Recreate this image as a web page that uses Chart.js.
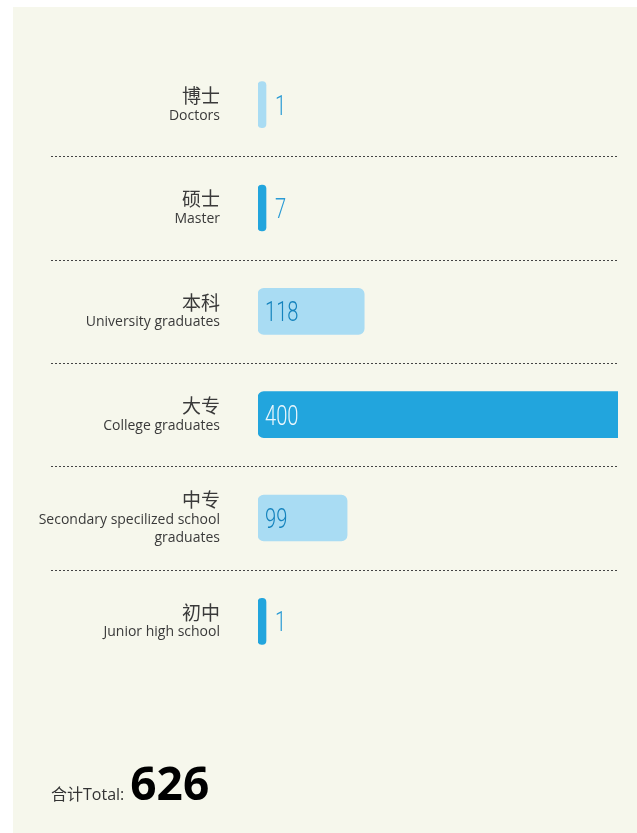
<!DOCTYPE html>
<html>
<head>
<meta charset="utf-8">
<script src="https://cdn.jsdelivr.net/npm/chart.js@4.4.1/dist/chart.umd.min.js"></script>
<style>
  html, body { margin: 0; padding: 0; background: #fff; }
  #panel { position: absolute; left: 13px; top: 7px; width: 624px; height: 826px; background: #f6f7ec; }
  #chart { position: absolute; left: 0; top: 0; }
  #total { position: absolute; left: 38px; top: 744px; line-height: 46px; white-space: nowrap; color: #333; }
  #total .lbl { font: 16px "Open Sans", "Noto Sans CJK SC", sans-serif; }
  #total .num { font: 700 46px "Open Sans", sans-serif; color: #000; margin-left: 6px; }
</style>
</head>
<body>
<div id="panel">
  <canvas id="chart" width="624" height="826"></canvas>
  <div id="total"><span class="lbl">合计Total:</span><span class="num">626</span></div>
</div>
<script>
const categoriesZh = ["博士", "硕士", "本科", "大专", "中专", "初中"]
const categoriesEn = [
  ["Doctors"],
  ["Master"],
  ["University graduates"],
  ["College graduates"],
  ["Secondary specilized school", "graduates"],
  ["Junior high school"]
]
const counts = [1, 7, 118, 400, 99, 1]

const lightBlue = "#a9dcf3"
const darkBlue = "#22a5dd"

const decor = {
  id: "decor",
  beforeDatasetsDraw(chart) {
    const ctx = chart.ctx
    const y = chart.scales.y
    ctx.save()
    ctx.setLineDash([2, 2])
    ctx.strokeStyle = "#444"
    ctx.lineWidth = 1
    for (let i = 1; i < categoriesZh.length; i++) {
      const py = Math.round((y.getPixelForTick(i - 1) + y.getPixelForTick(i)) / 2) + 0.5
      ctx.beginPath()
      ctx.moveTo(38, py)
      ctx.lineTo(chart.chartArea.right, py)
      ctx.stroke()
    }
    ctx.restore()
  },
  afterDatasetsDraw(chart) {
    const ctx = chart.ctx
    const y = chart.scales.y
    const meta = chart.getDatasetMeta(0)
    const right = chart.chartArea.left - 38

    ctx.save()
    ctx.textAlign = "right"
    ctx.textBaseline = "middle"
    categoriesZh.forEach((zh, i) => {
      const c = y.getPixelForTick(i)
      const en = categoriesEn[i]
      const top = c - (22 + en.length * 18) / 2
      ctx.fillStyle = "#3a3a3a"
      ctx.font = "19px 'Noto Sans CJK SC'"
      ctx.fillText(zh, right, top + 11)
      ctx.font = "14px 'Open Sans'"
      en.forEach((line, j) => ctx.fillText(line, right, top + 31 + j * 18))
    })
    ctx.restore()

    // value labels, drawn narrow like a condensed face
    meta.data.forEach((bar, i) => {
      const w = bar.x - bar.base
      const inside = w > 40
      const tx = inside ? bar.base + 7 : bar.x + 9
      ctx.save()
      ctx.translate(tx, bar.y + 10)
      ctx.scale(0.72, 1)
      ctx.font = "300 28px Roboto"
      ctx.textAlign = "left"
      ctx.textBaseline = "alphabetic"
      ctx.fillStyle = inside ? (i % 2 ? "#eaf6fc" : "#1583bd") : "#2a9bd5"
      ctx.fillText(String(counts[i]), 0, 0)
      ctx.restore()
    })
  }
}

const xMax = Math.max(...counts)

new Chart(document.getElementById("chart"), {
  type: "bar",
  data: {
    labels: categoriesZh,
    datasets: [{
      data: counts,
      backgroundColor: (c) => c.dataIndex % 2 ? darkBlue : lightBlue,
      borderSkipped: false,
      borderRadius: (c) => c.raw >= xMax
        ? { topLeft: 6, bottomLeft: 6, topRight: 0, bottomRight: 0 }
        : 6,
      barThickness: 46,
      minBarLength: 8
    }]
  },
  options: {
    indexAxis: "y",
    responsive: false,
    animation: false,
    devicePixelRatio: 1,
    layout: {
      padding: { left: 245, right: 19, top: 46, bottom: 160 }
    },
    plugins: {
      legend: { display: false },
      tooltip: { enabled: false }
    },
    scales: {
      x: { display: false, min: 0, max: xMax },
      y: { display: false }
    }
  },
  plugins: [decor]
})
</script>
</body>
</html>
